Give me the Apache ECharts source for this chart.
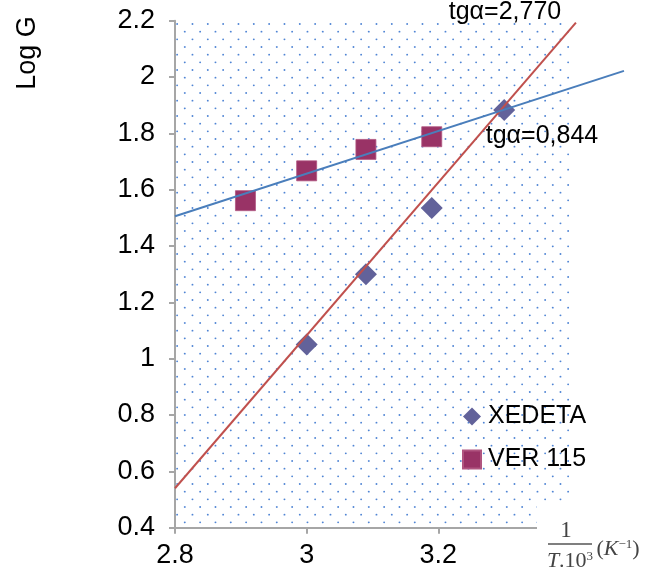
<!DOCTYPE html>
<html><head><meta charset="utf-8">
<script src="https://cdn.jsdelivr.net/npm/echarts@6/dist/echarts.min.js"></script>
<style>html,body{margin:0;padding:0;background:#fff}#c{width:654px;height:579px}</style>
</head><body><div id="c"></div>
<script>
// ---- data ----
const xedetaX = [3.0, 3.09, 3.19, 3.3];
const xedetaY = [1.05, 1.30, 1.535, 1.883];
const verX = [2.907, 3.0, 3.09, 3.19];
const verY = [1.561, 1.667, 1.743, 1.788];
const fitXedetaX = [2.8, 3.409];
const fitXedetaY = [0.54, 2.193];
const fitVerX = [2.8, 3.482];
const fitVerY = [1.506, 2.022];
const xTickLabels = ['2.8', '3', '3.2'];
const yTickLabels = ['0.4', '0.6', '0.8', '1', '1.2', '1.4', '1.6', '1.8', '2', '2.2'];
const seriesNames = ['XEDETA', 'VER 115'];
const slopeLabels = ['tgα=2,770', 'tgα=0,844'];
const yTitle = 'Log G';

const zip = (xs, ys) => xs.map((x, i) => [x, ys[i]]);

// dotted background pattern
const tile = document.createElement('canvas');
tile.width = 46; tile.height = 46;
const g = tile.getContext('2d');
g.fillStyle = 'rgba(70,125,210,0.95)';
const s = 46 / 3;
for (let i = -1; i <= 3; i++) {
  for (let j = -1; j <= 3; j++) {
    [[0.8, 1.0], [0.8 + s / 2, 1.0 + s / 2]].forEach(([ox, oy]) => {
      g.beginPath();
      g.arc(ox + i * s, oy + j * s, 0.95, 0, Math.PI * 2);
      g.fill();
    });
  }
}

const FONT = 'Liberation Sans, Arial, sans-serif';
const SERIF = 'Liberation Serif, DejaVu Serif, serif';

function fitSeries(name, xs, ys, color) {
  return {
    name: name, type: 'custom', clip: false, z: 3, silent: true,
    data: [[xs[0], ys[0], xs[1], ys[1]]],
    encode: { x: [0, 2], y: [1, 3] },
    renderItem: (params, api) => {
      const p1 = api.coord([api.value(0), api.value(1)]);
      const p2 = api.coord([api.value(2), api.value(3)]);
      return {
        type: 'line',
        shape: { x1: p1[0], y1: p1[1], x2: p2[0], y2: p2[1] },
        style: { stroke: color, lineWidth: 2 }
      };
    }
  };
}

const chart = echarts.init(document.getElementById('c'));
chart.setOption({
  backgroundColor: '#fff',
  animation: false,
  grid: {
    left: 175, right: 84, top: 20.7, bottom: 51.3,
    show: true, borderWidth: 0,
    backgroundColor: { image: tile, repeat: 'repeat' }
  },
  xAxis: {
    type: 'value', min: 2.8, max: 3.4, interval: 0.2,
    splitLine: { show: false },
    axisLine: { onZero: false, lineStyle: { color: '#a6a6a6', width: 2 } },
    axisTick: { show: true, length: 6, lineStyle: { color: '#a6a6a6', width: 2 } },
    axisLabel: {
      margin: 14, fontSize: 27, fontFamily: FONT, color: '#000',
      formatter: v => {
        const idx = Math.round((v - 2.8) / 0.2);
        return xTickLabels[idx] !== undefined ? xTickLabels[idx] : '';
      }
    }
  },
  yAxis: {
    type: 'value', min: 0.4, max: 2.2, interval: 0.2,
    splitLine: { show: false },
    axisLine: { show: true, onZero: false, lineStyle: { color: '#a6a6a6', width: 2 } },
    axisTick: { show: true, length: 6, lineStyle: { color: '#a6a6a6', width: 2 } },
    axisLabel: {
      margin: 20, fontSize: 27, fontFamily: FONT, color: '#000',
      formatter: v => yTickLabels[Math.round((v - 0.4) / 0.2)]
    }
  },
  legend: {
    orient: 'vertical', left: 457, top: 399,
    itemWidth: 18, itemHeight: 18, itemGap: 18,
    textStyle: { fontSize: 25, fontFamily: FONT, color: '#000', padding: [0, 0, 0, 2] },
    data: [
      { name: seriesNames[0], icon: 'diamond', itemStyle: { color: '#62629a', opacity: 1 } },
      { name: seriesNames[1], icon: 'rect', itemStyle: { color: '#993366', opacity: 1 } }
    ]
  },
  series: [
    {
      name: seriesNames[0], type: 'scatter', symbol: 'diamond', symbolSize: 22, z: 2,
      itemStyle: { color: '#62629a', opacity: 1 },
      data: zip(xedetaX, xedetaY)
    },
    {
      name: seriesNames[1], type: 'scatter', symbol: 'rect', symbolSize: 20, z: 2,
      itemStyle: { color: '#993366', opacity: 1, borderColor: '#b05580', borderWidth: 0.8 },
      data: zip(verX, verY)
    },
    fitSeries('fit1', fitXedetaX, fitXedetaY, '#c0504d'),
    fitSeries('fit2', fitVerX, fitVerY, '#4a7ebb')
  ],
  graphic: [
    { type: 'rect', z: 100, shape: { x: 537, y: 503, width: 117, height: 76 }, style: { fill: '#fff' } },
    { type: 'text', z: 101, x: 505, y: 12,
      style: { text: slopeLabels[0], font: '25px ' + FONT, fill: '#000', align: 'center', verticalAlign: 'middle' } },
    { type: 'text', z: 101, x: 542, y: 136,
      style: { text: slopeLabels[1], font: '25px ' + FONT, fill: '#000', align: 'center', verticalAlign: 'middle' } },
    { type: 'text', z: 101, x: 28, y: 53, rotation: Math.PI / 2,
      style: { text: yTitle, font: '27px ' + FONT, fill: '#000', align: 'center', verticalAlign: 'middle' } },
    // x axis title: 1 / (T.10^3) (K^-1)
    { type: 'text', z: 101, x: 566, y: 531,
      style: { text: '1', font: '23px ' + SERIF, fill: '#444', align: 'center', verticalAlign: 'middle' } },
    { type: 'line', z: 101, shape: { x1: 548, y1: 544, x2: 592, y2: 544 }, style: { stroke: '#555', lineWidth: 1.6 } },
    { type: 'text', z: 101, x: 570, y: 561,
      style: {
        text: '{i|T}{n|.10}{s|3}', align: 'center', verticalAlign: 'middle', fill: '#444',
        rich: {
          i: { font: 'italic 22px ' + SERIF, fill: '#444' },
          n: { font: '22px ' + SERIF, fill: '#444' },
          s: { font: '13px ' + SERIF, fill: '#444', verticalAlign: 'top' }
        }
      } },
    { type: 'text', z: 101, x: 618, y: 549,
      style: {
        text: '{n|(}{i|K}{s|−1}{n|)}', align: 'center', verticalAlign: 'middle', fill: '#444',
        rich: {
          i: { font: 'italic 22px ' + SERIF, fill: '#444' },
          n: { font: '22px ' + SERIF, fill: '#444' },
          s: { font: '13px ' + SERIF, fill: '#444', verticalAlign: 'top' }
        }
      } }
  ]
});
</script>
</body></html>
